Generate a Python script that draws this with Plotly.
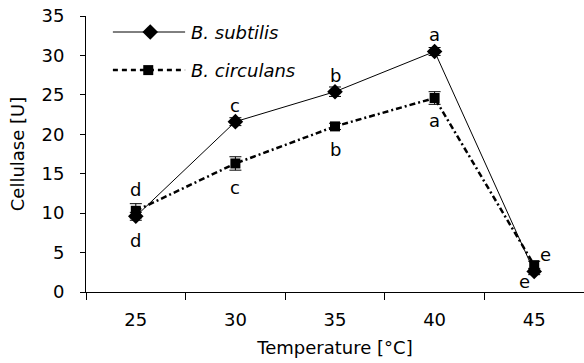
import plotly.graph_objects as go

temps = ["25", "30", "35", "40", "45"]
subtilis = [9.6, 21.6, 25.4, 30.5, 2.6]
subtilis_err = [0.5, 0.5, 0.6, 0.5, 0.4]
circulans = [10.3, 16.3, 21.0, 24.6, 3.4]
circulans_err = [0.9, 0.85, 0.4, 0.8, 0.5]
subtilis_letters = ["d", "c", "b", "a", "e"]
circulans_letters = ["d", "c", "b", "a", "e"]
series_names = ["B. subtilis", "B. circulans"]

FONT = "DejaVu Sans, Liberation Sans, Arial, sans-serif"
FS = 18

fig = go.Figure()

fig.add_trace(go.Scatter(
    x=temps, y=circulans, mode="lines+markers",
    line=dict(color="black", width=2.5, dash="6px,3px,2px,3px"),
    marker=dict(symbol="square", size=10, color="black"),
    error_y=dict(type="data", array=circulans_err, color="black", thickness=1, width=6),
    showlegend=False,
))
fig.add_trace(go.Scatter(
    x=temps, y=subtilis, mode="lines+markers",
    line=dict(color="black", width=1),
    marker=dict(symbol="diamond", size=12, color="black"),
    error_y=dict(type="data", array=subtilis_err, color="black", thickness=1, width=6),
    showlegend=False,
))

# Manual legend on an overlay axis (0..1 of the plot area)
leg_y = [0.942, 0.804]
fig.add_trace(go.Scatter(x=[0.054, 0.199], y=[leg_y[0]] * 2, mode="lines",
                         line=dict(color="black", width=1),
                         xaxis="x2", yaxis="y2", showlegend=False, hoverinfo="skip"))
fig.add_trace(go.Scatter(x=[0.129], y=[leg_y[0]], mode="markers",
                         marker=dict(symbol="diamond", size=12, color="black"),
                         xaxis="x2", yaxis="y2", showlegend=False, hoverinfo="skip"))
fig.add_trace(go.Scatter(x=[0.054, 0.199], y=[leg_y[1]] * 2, mode="lines",
                         line=dict(color="black", width=2.5, dash="5px,4px"),
                         xaxis="x2", yaxis="y2", showlegend=False, hoverinfo="skip"))
fig.add_trace(go.Scatter(x=[0.125], y=[leg_y[1]], mode="markers",
                         marker=dict(symbol="square", size=10, color="black"),
                         xaxis="x2", yaxis="y2", showlegend=False, hoverinfo="skip"))

annotations = []
for name, yy in zip(series_names, leg_y):
    annotations.append(dict(x=0.207, y=yy, xref="x2", yref="y2", text=f"<i>{name}</i>",
                            showarrow=False, xanchor="left", yanchor="middle",
                            font=dict(family=FONT, size=FS, color="black")))

# significance letters
sub_shift = [(0, -24), (0, 16), (0, 16), (0, 17), (-10, -10)]
cir_shift = [(0, 21), (0, -24), (0, -23), (0, -22), (11, 11)]
for i, t in enumerate(temps):
    dx, dy = sub_shift[i]
    annotations.append(dict(x=i, y=subtilis[i], xref="x", yref="y",
                            text=subtilis_letters[i], showarrow=False,
                            xshift=dx, yshift=dy,
                            font=dict(family=FONT, size=FS, color="black")))
    dx, dy = cir_shift[i]
    annotations.append(dict(x=i, y=circulans[i], xref="x", yref="y",
                            text=circulans_letters[i], showarrow=False,
                            xshift=dx, yshift=dy,
                            font=dict(family=FONT, size=FS, color="black")))

fig.update_layout(
    width=584, height=363,
    margin=dict(l=86, r=0, t=16, b=71),
    paper_bgcolor="white", plot_bgcolor="white",
    font=dict(family=FONT, size=FS, color="black"),
    annotations=annotations,
    xaxis=dict(type="category", range=[-0.5, 4.5], showline=True, linecolor="black",
               linewidth=1, ticks="outside", ticklen=7, tickcolor="black",
               tickson="boundaries", showgrid=False, zeroline=False,
               ticklabelstandoff=11,
               title=dict(text="Temperature [°C]", standoff=12,
                          font=dict(family=FONT, size=FS))),
    yaxis=dict(range=[0, 35], dtick=5, showline=True, linecolor="black", linewidth=1,
               ticks="outside", ticklen=5, tickcolor="black", showgrid=False,
               zeroline=False, ticklabelstandoff=12,
               title=dict(text="Cellulase [U]", standoff=12,
                          font=dict(family=FONT, size=FS))),
    xaxis2=dict(range=[0, 1], overlaying="x", visible=False),
    yaxis2=dict(range=[0, 1], overlaying="y", visible=False),
)

fig.write_html("out.html")
